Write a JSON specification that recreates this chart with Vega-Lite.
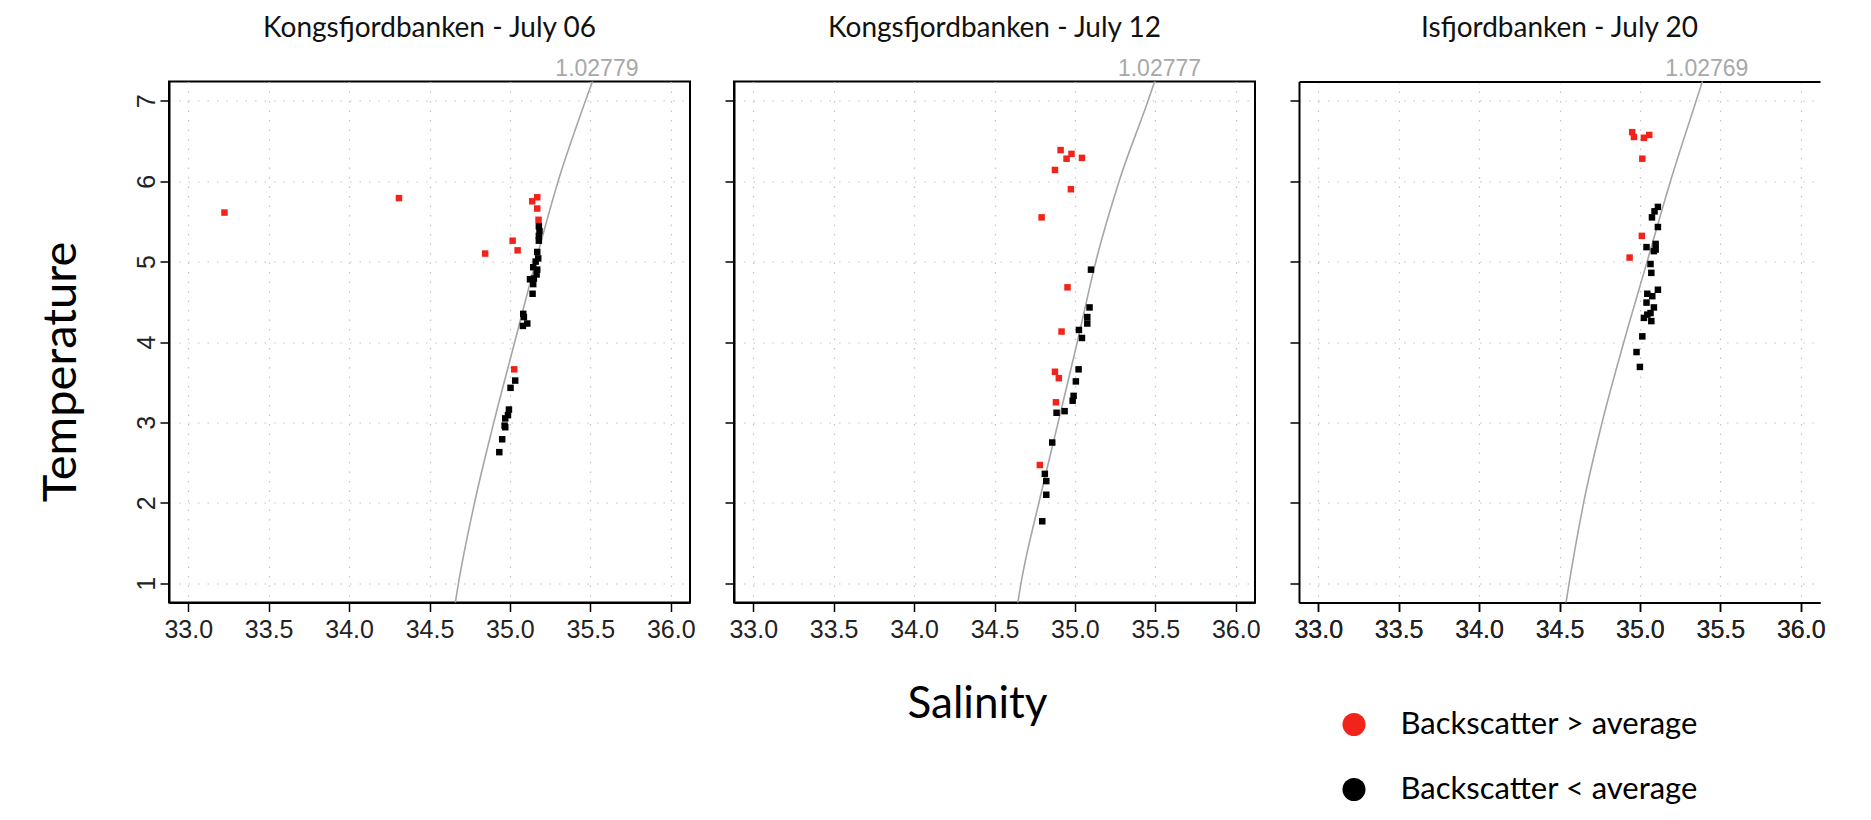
{
  "$schema": "https://vega.github.io/schema/vega-lite/v6.json",
  "background": "white",
  "autosize": {"type": "pad"},
  "padding": {"left": 36, "top": 13.5, "right": 5, "bottom": 5},
  "datasets": {
    "points": [
      {"panel": 1, "S": 33.225, "T": 5.61, "group": "Backscatter > average"},
      {"panel": 1, "S": 34.31, "T": 5.79, "group": "Backscatter > average"},
      {"panel": 1, "S": 34.846, "T": 5.10, "group": "Backscatter > average"},
      {"panel": 1, "S": 35.017, "T": 5.26, "group": "Backscatter > average"},
      {"panel": 1, "S": 35.048, "T": 5.14, "group": "Backscatter > average"},
      {"panel": 1, "S": 35.139, "T": 5.75, "group": "Backscatter > average"},
      {"panel": 1, "S": 35.170, "T": 5.80, "group": "Backscatter > average"},
      {"panel": 1, "S": 35.170, "T": 5.66, "group": "Backscatter > average"},
      {"panel": 1, "S": 35.178, "T": 5.52, "group": "Backscatter > average"},
      {"panel": 1, "S": 35.027, "T": 3.66, "group": "Backscatter > average"},
      {"panel": 1, "S": 35.18, "T": 5.44, "group": "Backscatter < average"},
      {"panel": 1, "S": 35.184, "T": 5.38, "group": "Backscatter < average"},
      {"panel": 1, "S": 35.18, "T": 5.32, "group": "Backscatter < average"},
      {"panel": 1, "S": 35.18, "T": 5.26, "group": "Backscatter < average"},
      {"panel": 1, "S": 35.17, "T": 5.12, "group": "Backscatter < average"},
      {"panel": 1, "S": 35.176, "T": 5.04, "group": "Backscatter < average"},
      {"panel": 1, "S": 35.16, "T": 5.00, "group": "Backscatter < average"},
      {"panel": 1, "S": 35.145, "T": 4.93, "group": "Backscatter < average"},
      {"panel": 1, "S": 35.17, "T": 4.90, "group": "Backscatter < average"},
      {"panel": 1, "S": 35.166, "T": 4.84, "group": "Backscatter < average"},
      {"panel": 1, "S": 35.125, "T": 4.78, "group": "Backscatter < average"},
      {"panel": 1, "S": 35.149, "T": 4.79, "group": "Backscatter < average"},
      {"panel": 1, "S": 35.145, "T": 4.72, "group": "Backscatter < average"},
      {"panel": 1, "S": 35.141, "T": 4.60, "group": "Backscatter < average"},
      {"panel": 1, "S": 35.083, "T": 4.35, "group": "Backscatter < average"},
      {"panel": 1, "S": 35.087, "T": 4.31, "group": "Backscatter < average"},
      {"panel": 1, "S": 35.081, "T": 4.20, "group": "Backscatter < average"},
      {"panel": 1, "S": 35.108, "T": 4.23, "group": "Backscatter < average"},
      {"panel": 1, "S": 35.033, "T": 3.52, "group": "Backscatter < average"},
      {"panel": 1, "S": 35.004, "T": 3.43, "group": "Backscatter < average"},
      {"panel": 1, "S": 34.994, "T": 3.16, "group": "Backscatter < average"},
      {"panel": 1, "S": 34.988, "T": 3.09, "group": "Backscatter < average"},
      {"panel": 1, "S": 34.971, "T": 3.05, "group": "Backscatter < average"},
      {"panel": 1, "S": 34.967, "T": 2.96, "group": "Backscatter < average"},
      {"panel": 1, "S": 34.971, "T": 2.94, "group": "Backscatter < average"},
      {"panel": 1, "S": 34.952, "T": 2.79, "group": "Backscatter < average"},
      {"panel": 1, "S": 34.934, "T": 2.63, "group": "Backscatter < average"},
      {"panel": 2, "S": 34.911, "T": 6.387, "group": "Backscatter > average"},
      {"panel": 2, "S": 34.948, "T": 6.28, "group": "Backscatter > average"},
      {"panel": 2, "S": 34.979, "T": 6.34, "group": "Backscatter > average"},
      {"panel": 2, "S": 35.044, "T": 6.29, "group": "Backscatter > average"},
      {"panel": 2, "S": 34.876, "T": 6.14, "group": "Backscatter > average"},
      {"panel": 2, "S": 34.975, "T": 5.90, "group": "Backscatter > average"},
      {"panel": 2, "S": 34.793, "T": 5.55, "group": "Backscatter > average"},
      {"panel": 2, "S": 34.954, "T": 4.68, "group": "Backscatter > average"},
      {"panel": 2, "S": 34.917, "T": 4.13, "group": "Backscatter > average"},
      {"panel": 2, "S": 34.876, "T": 3.63, "group": "Backscatter > average"},
      {"panel": 2, "S": 34.900, "T": 3.55, "group": "Backscatter > average"},
      {"panel": 2, "S": 34.882, "T": 3.25, "group": "Backscatter > average"},
      {"panel": 2, "S": 34.782, "T": 2.47, "group": "Backscatter > average"},
      {"panel": 2, "S": 35.10, "T": 4.90, "group": "Backscatter < average"},
      {"panel": 2, "S": 35.091, "T": 4.43, "group": "Backscatter < average"},
      {"panel": 2, "S": 35.077, "T": 4.31, "group": "Backscatter < average"},
      {"panel": 2, "S": 35.077, "T": 4.23, "group": "Backscatter < average"},
      {"panel": 2, "S": 35.025, "T": 4.15, "group": "Backscatter < average"},
      {"panel": 2, "S": 35.044, "T": 4.05, "group": "Backscatter < average"},
      {"panel": 2, "S": 35.023, "T": 3.66, "group": "Backscatter < average"},
      {"panel": 2, "S": 35.006, "T": 3.51, "group": "Backscatter < average"},
      {"panel": 2, "S": 34.992, "T": 3.33, "group": "Backscatter < average"},
      {"panel": 2, "S": 34.986, "T": 3.27, "group": "Backscatter < average"},
      {"panel": 2, "S": 34.936, "T": 3.14, "group": "Backscatter < average"},
      {"panel": 2, "S": 34.886, "T": 3.12, "group": "Backscatter < average"},
      {"panel": 2, "S": 34.859, "T": 2.75, "group": "Backscatter < average"},
      {"panel": 2, "S": 34.813, "T": 2.36, "group": "Backscatter < average"},
      {"panel": 2, "S": 34.822, "T": 2.27, "group": "Backscatter < average"},
      {"panel": 2, "S": 34.822, "T": 2.10, "group": "Backscatter < average"},
      {"panel": 2, "S": 34.797, "T": 1.77, "group": "Backscatter < average"},
      {"panel": 3, "S": 34.952, "T": 6.61, "group": "Backscatter > average"},
      {"panel": 3, "S": 34.963, "T": 6.55, "group": "Backscatter > average"},
      {"panel": 3, "S": 35.025, "T": 6.54, "group": "Backscatter > average"},
      {"panel": 3, "S": 35.058, "T": 6.575, "group": "Backscatter > average"},
      {"panel": 3, "S": 35.015, "T": 6.28, "group": "Backscatter > average"},
      {"panel": 3, "S": 35.012, "T": 5.32, "group": "Backscatter > average"},
      {"panel": 3, "S": 34.936, "T": 5.05, "group": "Backscatter > average"},
      {"panel": 3, "S": 35.112, "T": 5.68, "group": "Backscatter < average"},
      {"panel": 3, "S": 35.091, "T": 5.625, "group": "Backscatter < average"},
      {"panel": 3, "S": 35.075, "T": 5.55, "group": "Backscatter < average"},
      {"panel": 3, "S": 35.112, "T": 5.43, "group": "Backscatter < average"},
      {"panel": 3, "S": 35.098, "T": 5.22, "group": "Backscatter < average"},
      {"panel": 3, "S": 35.098, "T": 5.15, "group": "Backscatter < average"},
      {"panel": 3, "S": 35.041, "T": 5.18, "group": "Backscatter < average"},
      {"panel": 3, "S": 35.087, "T": 5.13, "group": "Backscatter < average"},
      {"panel": 3, "S": 35.066, "T": 4.97, "group": "Backscatter < average"},
      {"panel": 3, "S": 35.071, "T": 4.86, "group": "Backscatter < average"},
      {"panel": 3, "S": 35.112, "T": 4.65, "group": "Backscatter < average"},
      {"panel": 3, "S": 35.046, "T": 4.60, "group": "Backscatter < average"},
      {"panel": 3, "S": 35.077, "T": 4.57, "group": "Backscatter < average"},
      {"panel": 3, "S": 35.041, "T": 4.49, "group": "Backscatter < average"},
      {"panel": 3, "S": 35.087, "T": 4.43, "group": "Backscatter < average"},
      {"panel": 3, "S": 35.066, "T": 4.36, "group": "Backscatter < average"},
      {"panel": 3, "S": 35.025, "T": 4.30, "group": "Backscatter < average"},
      {"panel": 3, "S": 35.046, "T": 4.34, "group": "Backscatter < average"},
      {"panel": 3, "S": 35.071, "T": 4.26, "group": "Backscatter < average"},
      {"panel": 3, "S": 35.015, "T": 4.07, "group": "Backscatter < average"},
      {"panel": 3, "S": 34.979, "T": 3.875, "group": "Backscatter < average"},
      {"panel": 3, "S": 35.0, "T": 3.69, "group": "Backscatter < average"}
    ],
    "curves": [
      {"panel": 1, "T": 0.5, "S": 34.64}, {"panel": 1, "T": 1, "S": 34.68}, {"panel": 1, "T": 2, "S": 34.78},
      {"panel": 1, "T": 3, "S": 34.90}, {"panel": 1, "T": 4, "S": 35.03}, {"panel": 1, "T": 5, "S": 35.16},
      {"panel": 1, "T": 6, "S": 35.30}, {"panel": 1, "T": 7, "S": 35.47}, {"panel": 1, "T": 7.5, "S": 35.56},
      {"panel": 2, "T": 0.5, "S": 34.625}, {"panel": 2, "T": 1, "S": 34.665}, {"panel": 2, "T": 2, "S": 34.776},
      {"panel": 2, "T": 3, "S": 34.896}, {"panel": 2, "T": 4, "S": 35.015}, {"panel": 2, "T": 5, "S": 35.13},
      {"panel": 2, "T": 6, "S": 35.275}, {"panel": 2, "T": 7, "S": 35.455}, {"panel": 2, "T": 7.5, "S": 35.54},
      {"panel": 3, "T": 0.5, "S": 34.52}, {"panel": 3, "T": 1, "S": 34.56}, {"panel": 3, "T": 2, "S": 34.65},
      {"panel": 3, "T": 3, "S": 34.765}, {"panel": 3, "T": 4, "S": 34.90}, {"panel": 3, "T": 5, "S": 35.045},
      {"panel": 3, "T": 6, "S": 35.19}, {"panel": 3, "T": 7, "S": 35.35}, {"panel": 3, "T": 7.5, "S": 35.43}
    ],
    "labels": [
      {"panel": 1, "S": 35.51, "T": 7.24, "label": "1.02779"},
      {"panel": 2, "S": 35.495, "T": 7.24, "label": "1.02777"},
      {"panel": 3, "S": 35.385, "T": 7.24, "label": "1.02769"}
    ]
  },
  "spacing": 44,
  "bounds": "flush",
  "hconcat": [
    {
      "width": 521, "height": 521,
      "title": {"text": "Kongsfjordbanken - July 06"},
      "layer": [
        {
          "data": {"name": "curves"},
          "transform": [{"filter": "datum.panel == 1"}],
          "mark": {"type": "line", "color": "#a6a6a6", "strokeWidth": 1.6, "clip": true, "interpolate": "monotone"},
          "encoding": {
            "x": {"field": "S", "type": "quantitative", "scale": {"domain": [32.88, 36.12], "nice": false, "zero": false},
                  "axis": {"values": [33, 33.5, 34, 34.5, 35, 35.5, 36], "format": ".1f", "title": null}},
            "y": {"field": "T", "type": "quantitative", "scale": {"domain": [0.76, 7.24], "nice": false, "zero": false},
                  "axis": {"values": [1, 2, 3, 4, 5, 6, 7], "format": "d", "labelAngle": 270, "labelAlign": "center", "labelBaseline": "alphabetic",
                           "title": "Temperature", "titleFontSize": 47, "titleAngle": 270, "titleX": -94, "titleY": 290,
                           "titleAlign": "center", "titleBaseline": "alphabetic"}},
            "order": {"field": "T", "type": "quantitative"}
          }
        },
        {
          "data": {"name": "points"},
          "transform": [{"filter": "datum.panel == 1"}],
          "mark": {"type": "square", "size": 42, "opacity": 1},
          "encoding": {
            "x": {"field": "S", "type": "quantitative"},
            "y": {"field": "T", "type": "quantitative"},
            "color": {"field": "group", "type": "nominal",
                      "scale": {"domain": ["Backscatter > average", "Backscatter < average"], "range": ["#f2231a", "#000000"]},
                      "legend": {"title": null, "orient": "none", "legendX": 1169.5, "legendY": 627.5, "symbolType": "circle",
                                 "symbolSize": 530, "labelFont": "Lato", "labelFontSize": 31, "labelColor": "black",
                                 "rowPadding": 33, "labelOffset": 31, "padding": 0, "symbolStrokeWidth": 0, "labelLimit": 500}}
          }
        },
        {
          "data": {"name": "labels"},
          "transform": [{"filter": "datum.panel == 1"}],
          "mark": {"type": "text", "font": "Liberation Sans", "fontSize": 23, "color": "#a8a8a8", "baseline": "bottom", "dy": -1, "dx": 5},
          "encoding": {
            "x": {"field": "S", "type": "quantitative"},
            "y": {"field": "T", "type": "quantitative"},
            "text": {"field": "label"}
          }
        }
      ]
    },
    {
      "width": 521, "height": 521,
      "title": {"text": "Kongsfjordbanken - July 12"},
      "layer": [
        {
          "data": {"name": "curves"},
          "transform": [{"filter": "datum.panel == 2"}],
          "mark": {"type": "line", "color": "#a6a6a6", "strokeWidth": 1.6, "clip": true, "interpolate": "monotone"},
          "encoding": {
            "x": {"field": "S", "type": "quantitative", "scale": {"domain": [32.88, 36.12], "nice": false, "zero": false},
                  "axis": {"values": [33, 33.5, 34, 34.5, 35, 35.5, 36], "format": ".1f",
                           "title": "Salinity", "titleFontSize": 44, "titleX": 243, "titleY": 115,
                           "titleAlign": "center", "titleBaseline": "alphabetic"}},
            "y": {"field": "T", "type": "quantitative", "scale": {"domain": [0.76, 7.24], "nice": false, "zero": false},
                  "axis": {"values": [1, 2, 3, 4, 5, 6, 7], "labels": false, "title": null}},
            "order": {"field": "T", "type": "quantitative"}
          }
        },
        {
          "data": {"name": "points"},
          "transform": [{"filter": "datum.panel == 2"}],
          "mark": {"type": "square", "size": 42, "opacity": 1},
          "encoding": {
            "x": {"field": "S", "type": "quantitative"},
            "y": {"field": "T", "type": "quantitative"},
            "color": {"field": "group", "type": "nominal"}
          }
        },
        {
          "data": {"name": "labels"},
          "transform": [{"filter": "datum.panel == 2"}],
          "mark": {"type": "text", "font": "Liberation Sans", "fontSize": 23, "color": "#a8a8a8", "baseline": "bottom", "dy": -1, "dx": 5},
          "encoding": {
            "x": {"field": "S", "type": "quantitative"},
            "y": {"field": "T", "type": "quantitative"},
            "text": {"field": "label"}
          }
        }
      ]
    },
    {
      "width": 521, "height": 521,
      "title": {"text": "Isfjordbanken - July 20"},
      "view": {"stroke": null},
      "resolve": {"axis": {"x": "independent"}},
      "layer": [
        {
          "data": {"name": "curves"},
          "transform": [{"filter": "datum.panel == 3"}],
          "mark": {"type": "line", "color": "#a6a6a6", "strokeWidth": 1.6, "clip": true, "interpolate": "monotone"},
          "encoding": {
            "x": {"field": "S", "type": "quantitative", "scale": {"domain": [32.88, 36.12], "nice": false, "zero": false},
                  "axis": {"orient": "bottom", "values": [33, 33.5, 34, 34.5, 35, 35.5, 36], "format": ".1f", "title": null}},
            "y": {"field": "T", "type": "quantitative", "scale": {"domain": [0.76, 7.24], "nice": false, "zero": false},
                  "axis": {"values": [1, 2, 3, 4, 5, 6, 7], "labels": false, "title": null}},
            "order": {"field": "T", "type": "quantitative"}
          }
        },
        {
          "data": {"name": "points"},
          "transform": [{"filter": "datum.panel == 3"}],
          "mark": {"type": "square", "size": 42, "opacity": 1},
          "encoding": {
            "x": {"field": "S", "type": "quantitative", "axis": {"orient": "bottom", "values": [33, 33.5, 34, 34.5, 35, 35.5, 36], "format": ".1f", "title": null}},
            "y": {"field": "T", "type": "quantitative"},
            "color": {"field": "group", "type": "nominal"}
          }
        },
        {
          "data": {"name": "labels"},
          "transform": [{"filter": "datum.panel == 3"}],
          "mark": {"type": "text", "font": "Liberation Sans", "fontSize": 23, "color": "#a8a8a8", "baseline": "bottom", "dy": -1, "dx": 5},
          "encoding": {
            "x": {"field": "S", "type": "quantitative",
                  "axis": {"orient": "top", "labels": false, "ticks": false, "grid": false, "title": null, "domain": true}},
            "y": {"field": "T", "type": "quantitative"},
            "text": {"field": "label"}
          }
        }
      ]
    }
  ],
  "config": {
    "view": {"stroke": "black", "strokeWidth": 2},
    "axis": {
      "labelFont": "Liberation Sans", "labelFontSize": 25, "labelColor": "#222222", "labelPadding": 6,
      "tickColor": "black", "tickSize": 9, "tickWidth": 1.5,
      "domain": true, "domainColor": "black", "domainWidth": 2,
      "grid": true, "gridColor": "#c4c4c4", "gridDash": [1.5, 8], "gridWidth": 1.2,
      "titleFont": "Lato", "titleFontWeight": "normal", "titleColor": "black"
    },
    "title": {"font": "Lato", "fontSize": 28, "fontWeight": "normal", "color": "#111111", "anchor": "middle", "frame": "group", "offset": 15}
  }
}
